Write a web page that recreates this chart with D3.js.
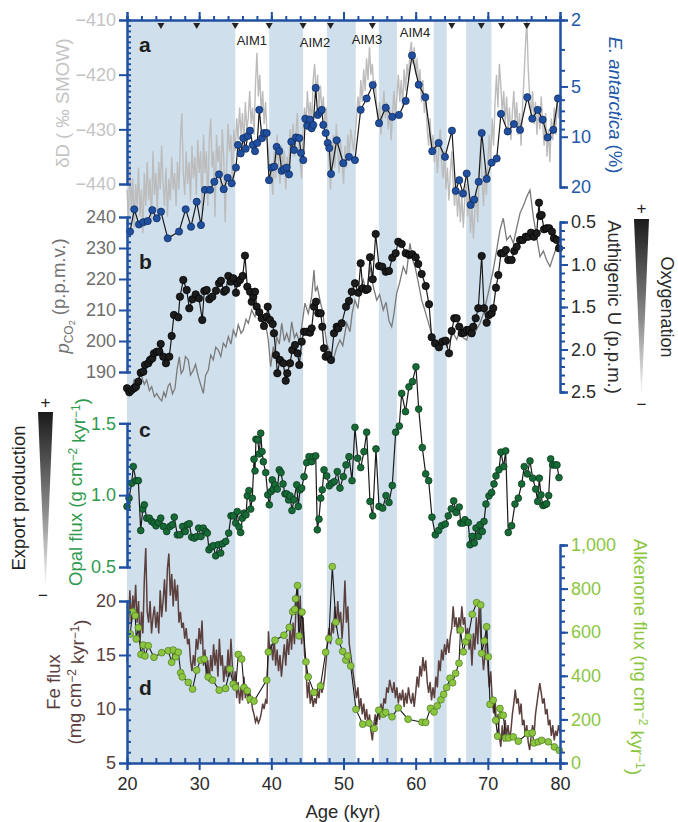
<!DOCTYPE html>
<html><head><meta charset="utf-8">
<script src="https://cdn.jsdelivr.net/npm/d3@7"></script>
<style>
body{margin:0;background:#fff}
svg text{font-family:"Liberation Sans",Arial,Helvetica,sans-serif}
</style></head><body>
<svg id="chart" width="678" height="822"></svg>
<script>
// ---- Age bands (Antarctic warm intervals), event markers and labels ----
const ageBands = [[20,35.0],[39.7,44.4],[47.7,51.7],[54.9,57.4],[62.5,64.3],[67.0,70.5]];
const markerAges = [24.7,29.66,35.0,39.7,44.4,48.2,54.0,65.0,69.1,71.9,75.4];
const aimLabels = [["AIM1",37.3,45],["AIM2",46.05,47],["AIM3",53.25,44],["AIM4",59.9,37]];

// ---- a: deuterium (‰ SMOW) and E. antarctica abundance (%) ----
const deltaD = [
[20.0,-441],[20.2,-447],[20.4,-436],[20.6,-445],[20.8,-439],[21.0,-448],[21.2,-440],[21.4,-444],[21.6,-437],[21.8,-446],
[22.0,-441],[22.2,-449],[22.4,-438],[22.6,-444],[22.8,-436],[23.0,-443],[23.2,-439],[23.4,-447],[23.6,-434],[23.8,-442],
[24.0,-438],[24.2,-445],[24.4,-436],[24.6,-441],[24.8,-433],[25.0,-440],[25.2,-444],[25.4,-437],[25.6,-446],[25.8,-439],
[26.0,-443],[26.2,-435],[26.4,-441],[26.6,-438],[26.8,-444],[27.0,-436],[27.2,-441],[27.4,-432],[27.6,-427],[27.8,-438],
[28.0,-442],[28.2,-434],[28.4,-440],[28.6,-436],[28.8,-443],[29.0,-433],[29.2,-439],[29.4,-435],[29.6,-442],[29.8,-432],
[30.0,-438],[30.2,-434],[30.4,-445],[30.6,-431],[30.8,-438],[31.0,-434],[31.2,-444],[31.4,-432],[31.6,-428],[31.8,-437],
[32.0,-434],[32.2,-446],[32.4,-431],[32.6,-436],[32.8,-433],[33.0,-441],[33.2,-430],[33.4,-435],[33.6,-447],[33.8,-437],
[34.0,-429],[34.2,-434],[34.4,-431],[34.6,-440],[34.8,-430],[35.0,-434],[35.2,-428],[35.4,-432],[35.6,-426],[35.8,-431],
[36.0,-427],[36.2,-433],[36.4,-425],[36.6,-430],[36.8,-428],[37.0,-423],[37.2,-429],[37.4,-426],[37.6,-431],[37.8,-422],
[38.0,-416],[38.2,-424],[38.4,-420],[38.6,-427],[38.8,-423],[39.0,-429],[39.2,-425],[39.4,-431],[39.6,-434],[39.8,-438],
[40.0,-437],[40.2,-442],[40.4,-434],[40.6,-439],[40.8,-431],[41.0,-436],[41.2,-440],[41.4,-433],[41.6,-438],[41.8,-434],
[42.0,-441],[42.2,-435],[42.4,-439],[42.6,-430],[42.8,-434],[43.0,-429],[43.2,-435],[43.4,-431],[43.6,-427],[43.8,-433],
[44.0,-436],[44.2,-439],[44.4,-430],[44.6,-426],[44.8,-429],[45.0,-423],[45.2,-428],[45.4,-425],[45.6,-429],[45.8,-421],
[46.0,-418],[46.2,-424],[46.4,-420],[46.6,-426],[46.8,-422],[47.0,-427],[47.2,-424],[47.4,-429],[47.6,-426],[47.8,-432],
[48.0,-436],[48.2,-441],[48.4,-434],[48.6,-431],[48.8,-437],[49.0,-429],[49.2,-434],[49.4,-438],[49.6,-432],[49.8,-436],
[50.0,-440],[50.2,-433],[50.4,-437],[50.6,-431],[50.8,-435],[51.0,-430],[51.4,-434],[51.8,-428],[52.0,-424],[52.2,-427],
[52.4,-421],[52.6,-425],[52.8,-419],[53.0,-423],[53.2,-417],[53.4,-421],[53.6,-415],[53.8,-420],[54.0,-418],[54.2,-423],
[54.4,-421],[54.6,-426],[54.8,-429],[55.0,-425],[55.2,-431],[55.4,-427],[55.6,-423],[55.8,-428],[56.0,-425],[56.2,-430],
[56.4,-426],[56.6,-432],[56.8,-427],[57.0,-423],[57.2,-428],[57.4,-424],[57.6,-420],[57.8,-425],[58.0,-421],[58.2,-426],
[58.4,-419],[58.6,-423],[58.8,-418],[59.0,-421],[59.2,-416],[59.4,-414],[59.6,-418],[59.8,-415],[60.0,-420],[60.2,-417],
[60.4,-422],[60.6,-419],[60.8,-425],[61.0,-421],[61.2,-427],[61.4,-424],[61.6,-430],[61.8,-433],[62.0,-428],[62.2,-434],
[62.4,-431],[62.6,-436],[62.8,-432],[63.0,-438],[63.2,-434],[63.4,-430],[63.6,-436],[63.8,-439],[64.0,-434],[64.2,-441],
[64.4,-437],[64.6,-443],[64.8,-438],[65.0,-434],[65.2,-440],[65.4,-444],[65.6,-439],[65.8,-446],[66.0,-441],[66.2,-447],
[66.4,-442],[66.6,-448],[66.8,-443],[67.0,-440],[67.2,-446],[67.4,-442],[67.6,-449],[67.8,-444],[68.0,-450],[68.2,-445],
[68.4,-441],[68.6,-447],[68.8,-438],[69.0,-433],[69.2,-439],[69.4,-444],[69.6,-437],[69.8,-442],[70.0,-436],[70.2,-431],
[70.4,-436],[70.6,-428],[70.8,-433],[71.0,-425],[71.2,-420],[71.4,-426],[71.6,-418],[71.8,-422],[72.0,-427],[72.2,-423],
[72.4,-429],[72.6,-424],[72.8,-430],[73.0,-426],[73.2,-432],[73.4,-427],[73.6,-423],[73.8,-429],[74.0,-425],[74.2,-431],
[74.4,-427],[74.6,-433],[74.8,-426],[75.0,-421],[75.2,-415],[75.4,-410],[75.6,-419],[75.8,-424],[76.0,-428],[76.2,-423],
[76.4,-429],[76.6,-425],[76.8,-431],[77.0,-426],[77.2,-430],[77.4,-424],[77.6,-429],[77.8,-433],[78.0,-427],[78.2,-435],
[78.4,-430],[78.6,-436],[78.8,-428],[79.0,-432],[79.2,-426],[79.4,-431],[79.6,-424],[79.8,-428],[80.0,-425]
];
const eAntarctica = [
[20.42,37.0],[21.01,27.2],[21.66,33.5],[22.26,32.5],[22.87,32.0],[23.51,27.5],[24.12,30.8],[24.71,28.1],[25.64,40.6],[27.21,37.0],
[28.13,27.2],[28.87,34.6],[29.66,24.5],[30.25,33.8],[30.81,20.8],[31.50,20.8],[32.10,18.6],[32.75,16.8],[33.40,20.6],[33.95,17.6],
[34.51,19.0],[35.10,15.3],[35.38,11.2],[35.75,12.6],[36.11,10.2],[36.45,11.8],[36.72,9.9],[37.04,9.2],[37.42,11.2],[37.74,12.2],
[38.05,10.9],[38.33,6.9],[38.71,10.2],[38.98,9.5],[39.36,9.5],[39.68,18.2],[40.05,15.3],[40.41,15.1],[40.74,11.5],[41.10,12.2],
[41.44,16.0],[41.75,15.6],[42.13,15.3],[42.45,16.8],[42.77,10.7],[43.14,12.0],[43.42,10.1],[43.87,10.2],[44.11,12.5],[44.43,13.8],
[44.71,7.8],[44.98,8.6],[45.36,7.9],[45.59,8.9],[45.81,8.5],[46.15,5.1],[46.42,7.4],[46.74,7.1],[46.98,6.9],[47.20,8.5],
[47.53,9.5],[47.81,10.9],[48.03,11.7],[48.27,16.7],[49.06,10.5],[49.97,14.4],[50.76,13.2],[51.59,13.8],[52.38,6.9],[53.21,5.9],
[54.05,4.9],[54.92,8.3],[55.85,6.7],[56.76,7.6],[57.69,7.4],[58.62,6.1],[59.49,3.26],[60.42,4.88],[61.33,5.8],[62.30,12.2],
[63.19,10.9],[64.06,13.2],[65.03,9.2],[65.55,21.1],[66.04,18.2],[66.56,21.9],[67.07,16.6],[67.62,25.6],[68.12,23.8],[68.73,18.6],
[69.15,9.5],[69.84,17.9],[70.53,14.3],[71.23,13.5],[71.82,7.3],[72.75,9.3],[73.62,8.4],[74.46,9.1],[75.47,5.8],[76.16,7.8],
[76.91,6.9],[77.60,7.9],[78.29,10.1],[79.07,9.1],[79.72,5.9]
];

// ---- b: atmospheric CO2 (p.p.m.v.) and authigenic uranium (p.p.m.) ----
const pco2 = [
[20.65,184.2],[21.0,187.5],[21.34,186.3],[21.7,189.0],[22.04,188.5],[22.4,186.0],[22.73,187.4],[23.1,184.0],[23.42,185.3],[23.8,182.0],
[24.12,183.1],[24.5,181.5],[24.81,180.7],[25.1,183.5],[25.36,182.0],[25.7,185.5],[25.96,186.3],[26.3,183.0],[26.65,184.7],[26.95,191.0],
[27.25,194.9],[27.5,189.5],[27.80,190.6],[28.1,195.0],[28.49,193.9],[28.8,189.0],[29.19,190.6],[29.5,192.5],[29.88,188.5],[30.2,186.0],
[30.57,183.1],[30.9,189.0],[31.27,190.6],[31.6,195.5],[31.96,193.9],[32.3,198.0],[32.65,197.1],[33.0,195.0],[33.34,199.3],[33.7,198.0],
[34.04,201.4],[34.4,199.0],[34.73,203.5],[35.1,201.5],[35.42,205.2],[35.8,202.5],[36.11,203.5],[36.5,207.0],[36.81,205.7],[37.28,210.0],
[37.74,207.8],[38.19,211.0],[38.66,208.9],[39.12,206.8],[39.58,200.3],[39.91,191.7],[40.27,198.2],[40.5,196.0],[40.74,201.4],[41.1,199.0],
[41.44,205.7],[41.8,200.0],[42.13,202.5],[42.5,199.5],[42.82,206.2],[43.2,201.0],[43.51,202.5],[43.9,199.5],[44.21,204.6],[44.66,212.2],
[45.12,208.9],[45.59,214.3],[45.91,222.9],[46.1,216.0],[46.37,217.5],[46.74,213.2],[47.0,210.5],[47.20,207.8],[47.45,203.0],[47.67,199.3],
[48.1,196.5],[48.59,193.9],[49.0,197.5],[49.51,200.3],[49.9,198.5],[50.44,205.8],[50.9,203.0],[51.2,209.0],[51.59,213.2],[52.0,210.5],
[52.3,216.5],[52.74,219.7],[53.2,215.5],[53.67,224.0],[54.13,217.5],[54.60,213.2],[55.0,215.0],[55.51,210.0],[55.9,212.5],[56.3,206.5],
[56.68,204.6],[57.0,209.0],[57.37,215.4],[57.8,219.0],[58.28,224.0],[58.7,221.5],[59.21,231.5],[59.6,226.0],[59.91,224.0],[60.4,218.5],
[60.83,213.2],[61.2,210.5],[61.53,207.8],[62.0,204.0],[62.44,200.3],[62.9,199.0],[63.37,198.2],[63.8,201.0],[64.30,198.2],[64.8,200.5],
[65.21,202.5],[65.7,200.5],[66.14,203.5],[66.6,201.0],[67.07,200.3],[67.5,203.5],[68.0,201.5],[68.5,204.0],[68.91,205.7],[69.4,209.0],
[69.84,213.2],[70.3,218.0],[70.75,222.9],[71.2,229.0],[71.68,235.8],[72.14,239.6],[72.61,232.6],[73.1,234.0],[73.53,231.5],[74.0,236.5],
[74.46,241.2],[75.0,244.0],[75.38,246.5],[75.84,248.7],[76.30,240.1],[76.8,233.0],[77.23,227.2],[77.7,229.0],[78.15,226.1],[78.61,224.0],
[79.1,227.5],[79.54,230.4],[80.0,233.6]
];
const authigenicU = [
[20.0,2.456],[20.32,2.504],[20.65,2.476],[20.97,2.456],[21.25,2.438],[21.57,2.379],[21.90,2.273],[22.26,2.261],[22.49,2.182],[22.95,2.162],
[23.19,2.124],[23.51,2.104],[23.74,2.045],[24.12,2.026],[24.48,2.026],[24.67,1.935],[25.03,2.085],[25.40,2.162],[25.86,2.085],[26.19,1.841],
[26.51,1.594],[27.11,1.621],[27.34,1.379],[27.80,1.182],[28.27,1.300],[28.63,1.515],[29.05,1.409],[29.52,1.351],[29.98,1.398],[30.43,1.653],
[30.71,1.312],[31.04,1.300],[31.40,1.409],[31.82,1.379],[32.33,1.308],[32.75,1.221],[33.02,1.191],[33.44,1.320],[33.72,1.300],[34.04,1.135],
[34.37,1.202],[34.73,1.162],[35.10,1.332],[35.28,1.221],[35.66,1.182],[36.03,1.135],[36.35,0.896],[36.67,1.261],[37.04,1.320],[37.28,1.438],
[37.50,1.379],[37.74,1.320],[37.97,1.496],[38.33,1.562],[38.66,1.633],[38.98,1.724],[39.36,1.614],[39.50,1.496],[39.81,1.653],[40.19,1.700],
[40.37,1.809],[40.65,2.065],[40.83,2.280],[41.20,2.124],[41.66,2.162],[41.99,2.367],[42.21,2.280],[42.59,2.162],[42.90,2.006],[43.28,1.947],
[43.65,2.045],[43.87,2.182],[44.21,1.908],[44.53,1.791],[44.90,1.791],[45.36,1.802],[45.59,1.751],[45.91,1.496],[46.19,1.438],[46.51,1.574],
[46.84,1.574],[47.06,1.732],[47.30,1.986],[47.53,2.085],[47.89,2.065],[48.27,2.124],[48.68,1.809],[49.06,1.732],[49.28,1.751],[49.75,1.692],
[50.35,1.496],[50.76,1.429],[51.14,1.320],[51.59,1.221],[52.05,1.332],[52.38,0.986],[52.66,1.280],[53.12,1.300],[53.35,1.288],[53.67,0.915],
[54.05,1.174],[54.46,0.641],[54.92,1.018],[55.37,1.026],[55.85,1.085],[56.30,1.076],[56.76,0.920],[57.23,0.868],[57.59,0.732],[58.06,0.759],
[58.62,0.868],[59.12,0.888],[59.53,0.880],[60.00,0.915],[60.36,0.994],[60.83,1.112],[61.39,1.253],[61.85,1.468],[62.22,1.856],[62.68,1.927],
[63.23,1.974],[63.69,1.908],[64.16,1.896],[64.62,2.045],[64.99,1.782],[65.35,1.633],[65.68,1.633],[66.04,1.732],[66.38,1.809],[66.74,1.802],
[67.07,1.771],[67.43,1.771],[67.76,1.809],[67.98,1.732],[68.32,1.633],[68.68,1.515],[69.15,0.900],[69.47,1.515],[69.84,1.685],[70.16,1.594],
[70.53,1.574],[70.75,1.515],[71.13,1.273],[71.45,1.124],[71.82,0.868],[72.14,0.868],[72.51,0.829],[72.83,0.947],[73.30,0.947],[73.66,0.841],
[74.00,0.791],[74.46,0.712],[74.83,0.712],[75.25,0.673],[75.61,0.673],[75.98,0.626],[76.39,0.673],[76.77,0.633],[77.09,0.273],[77.23,0.429],
[77.46,0.418],[77.78,0.586],[78.15,0.574],[78.51,0.574],[78.89,0.614],[79.16,0.692],[79.54,0.712],[79.86,0.809]
];

// ---- c: opal flux (g cm-2 kyr-1) ----
const opalFlux = [
[20.0,0.921],[20.28,0.979],[20.65,1.083],[20.87,1.199],[21.25,1.101],[21.57,1.101],[21.90,0.754],[22.18,0.903],[22.40,0.933],[22.73,0.840],
[23.09,0.840],[23.42,0.817],[23.74,0.806],[24.02,0.787],[24.34,0.810],[24.67,0.840],[25.03,0.782],[25.50,0.747],[25.96,0.782],[26.28,0.794],
[26.55,0.847],[26.97,0.724],[27.34,0.724],[27.72,0.782],[28.08,0.747],[28.36,0.794],[28.63,0.801],[28.96,0.708],[29.33,0.701],[29.66,0.712],
[29.93,0.771],[30.25,0.712],[30.57,0.771],[30.90,0.747],[31.13,0.736],[31.36,0.620],[31.64,0.639],[31.96,0.648],[32.29,0.578],[32.65,0.655],
[32.98,0.597],[33.26,0.662],[33.68,0.678],[34.09,0.736],[34.41,0.856],[34.73,0.856],[35.06,0.806],[35.28,0.886],[35.52,0.778],[35.75,0.740],
[35.98,0.840],[36.21,0.875],[36.49,0.863],[36.67,0.995],[36.90,1.032],[37.14,0.903],[37.36,0.979],[37.60,1.250],[37.74,1.169],[37.87,1.389],
[38.11,1.384],[38.33,1.287],[38.53,1.431],[38.71,1.303],[38.89,1.233],[39.22,1.157],[39.50,1.002],[39.72,0.933],[39.95,1.025],[40.13,1.106],
[40.27,1.042],[40.51,1.072],[40.83,1.042],[41.10,1.176],[41.34,1.157],[41.62,1.078],[41.89,1.009],[42.13,1.009],[42.40,0.967],[42.59,0.995],
[42.86,0.893],[43.14,0.967],[43.51,1.072],[43.74,0.921],[43.97,1.037],[44.21,1.049],[44.53,1.129],[44.90,1.226],[45.22,1.268],[45.59,1.233],
[45.81,1.268],[46.15,1.273],[46.37,0.759],[46.60,0.833],[46.84,0.979],[47.06,1.037],[47.30,1.176],[47.67,1.134],[48.03,1.065],[48.37,1.083],
[48.73,1.094],[49.14,1.164],[49.51,1.049],[49.97,1.129],[50.35,1.210],[50.76,1.268],[51.18,1.101],[51.59,1.472],[51.97,1.257],[52.38,1.192],
[52.84,1.303],[53.21,1.438],[53.67,0.956],[54.05,0.856],[54.50,1.322],[54.92,0.921],[55.43,0.910],[55.89,0.997],[56.30,0.949],[56.76,1.067],
[57.23,1.438],[57.73,1.481],[58.06,1.708],[58.59,1.581],[59.07,1.754],[59.56,1.790],[60.04,1.893],[60.42,1.599],[60.92,1.331],[61.39,1.148],
[61.80,1.101],[62.26,0.847],[62.72,0.724],[63.19,0.754],[63.60,0.787],[64.10,0.799],[64.52,0.856],[64.93,0.905],[65.27,0.960],[65.59,0.879],
[66.04,0.917],[66.24,0.806],[66.60,0.806],[66.83,0.829],[67.29,0.810],[67.53,0.655],[67.85,0.713],[68.12,0.667],[68.36,0.771],[68.68,0.713],
[68.91,0.794],[69.23,0.747],[69.47,0.817],[69.74,0.938],[70.16,0.995],[70.53,1.018],[70.85,1.078],[71.13,1.134],[71.54,1.176],[71.82,1.299],
[72.20,1.199],[72.47,1.308],[72.83,0.740],[73.30,0.787],[73.76,0.938],[74.22,0.979],[74.69,1.078],[75.05,1.199],[75.47,1.148],[75.84,1.238],
[76.21,1.118],[76.63,1.042],[76.91,0.956],[77.13,1.118],[77.36,1.002],[77.64,0.928],[77.92,0.933],[78.15,0.940],[78.43,0.997],[78.71,1.252],
[78.98,1.210],[79.30,1.210],[79.58,1.210],[79.86,1.122]
];

// ---- d: iron flux (mg cm-2 kyr-1) and alkenone flux (ng cm-2 kyr-1) ----
const feFlux = [
[20.0,14.3],[20.2,17.5],[20.4,21.0],[20.6,18.0],[20.8,20.5],[21.0,19.0],[21.2,21.5],[21.4,18.0],[21.6,20.0],[21.8,16.0],
[22.0,19.0],[22.2,17.0],[22.4,22.0],[22.6,24.9],[22.8,19.0],[23.0,18.0],[23.2,20.0],[23.4,17.0],[23.6,18.5],[23.8,19.5],
[24.0,17.5],[24.2,19.0],[24.4,17.0],[24.6,21.0],[24.8,18.5],[25.0,20.0],[25.2,22.0],[25.4,19.0],[25.6,23.0],[25.8,24.4],
[26.0,20.5],[26.2,22.5],[26.4,19.5],[26.6,22.0],[26.8,20.0],[27.0,21.5],[27.2,18.0],[27.4,19.0],[27.6,17.5],[27.8,18.0],
[28.0,16.5],[28.2,17.5],[28.4,16.0],[28.6,16.5],[28.8,14.5],[29.0,13.5],[29.2,15.0],[29.4,14.0],[29.6,16.5],[29.8,15.5],
[30.0,17.5],[30.2,16.0],[30.4,18.2],[30.6,14.0],[30.8,15.5],[31.0,13.0],[31.2,14.5],[31.4,12.5],[31.6,15.0],[31.8,13.5],
[32.0,16.0],[32.2,14.0],[32.4,15.5],[32.6,13.0],[32.8,16.5],[33.0,14.0],[33.2,15.0],[33.4,12.5],[33.6,14.0],[33.8,13.0],
[34.0,15.5],[34.2,13.0],[34.4,16.5],[34.6,14.0],[34.8,12.0],[35.0,13.5],[35.2,11.0],[35.4,12.5],[35.6,10.5],[35.8,12.0],
[36.0,10.8],[36.2,13.0],[36.4,11.0],[36.6,12.0],[36.8,10.5],[37.0,11.5],[37.2,11.0],[37.4,10.0],[37.6,9.5],[37.8,8.8],
[38.0,9.2],[38.2,8.7],[38.4,9.0],[38.6,9.6],[38.8,10.5],[39.0,10.0],[39.2,10.8],[39.4,10.5],[39.6,17.2],[39.8,15.0],
[40.0,16.0],[40.2,14.5],[40.4,16.5],[40.6,14.0],[40.8,15.5],[41.0,13.5],[41.2,15.0],[41.4,13.0],[41.6,14.5],[41.8,16.0],
[42.0,14.0],[42.2,16.5],[42.4,15.0],[42.6,17.5],[42.8,15.5],[43.0,18.0],[43.2,16.0],[43.4,19.0],[43.6,21.5],[43.8,17.0],
[44.0,20.5],[44.2,16.0],[44.4,18.5],[44.6,15.0],[44.8,14.0],[45.0,11.0],[45.2,12.5],[45.4,10.5],[45.6,11.5],[45.8,10.2],
[46.0,11.0],[46.2,10.5],[46.4,11.8],[46.6,11.0],[46.8,12.5],[47.0,11.5],[47.2,12.0],[47.4,13.0],[47.6,14.5],[47.8,16.4],
[48.0,17.5],[48.2,16.0],[48.4,18.0],[48.6,17.0],[48.8,19.5],[49.0,17.5],[49.2,20.0],[49.4,18.0],[49.6,19.0],[49.8,16.5],
[50.0,18.5],[50.2,21.9],[50.4,18.0],[50.6,19.5],[50.8,16.0],[51.0,15.0],[51.2,14.0],[51.4,13.0],[51.6,12.0],[51.8,11.0],
[52.0,12.0],[52.2,10.0],[52.4,11.0],[52.6,9.5],[52.8,10.5],[53.0,9.0],[53.2,10.0],[53.4,8.5],[53.6,9.5],[53.8,8.0],
[54.0,7.1],[54.2,8.5],[54.4,9.5],[54.6,8.5],[54.8,10.0],[55.0,9.0],[55.2,10.5],[55.4,9.5],[55.6,11.0],[55.8,10.5],
[56.0,12.0],[56.2,11.5],[56.4,12.7],[56.6,12.0],[56.8,11.5],[57.0,12.5],[57.2,11.0],[57.4,12.0],[57.6,10.5],[57.8,11.5],
[58.0,10.8],[58.2,11.8],[58.4,10.2],[58.6,11.5],[58.8,10.5],[59.0,12.0],[59.2,11.0],[59.4,10.5],[59.6,11.5],[59.8,10.2],
[60.0,11.5],[60.2,13.0],[60.4,12.0],[60.6,14.0],[60.8,13.0],[61.0,14.8],[61.2,13.5],[61.4,14.5],[61.6,12.5],[61.8,11.5],
[62.0,12.5],[62.2,10.8],[62.4,12.0],[62.6,11.0],[62.8,13.0],[63.0,12.0],[63.2,14.5],[63.4,13.5],[63.6,15.5],[63.8,14.5],
[64.0,16.0],[64.2,15.0],[64.4,16.5],[64.6,15.2],[64.8,16.7],[65.0,17.5],[65.2,19.5],[65.4,17.6],[65.6,18.5],[65.8,17.0],
[66.0,18.5],[66.2,17.5],[66.4,19.5],[66.6,17.8],[66.8,18.5],[67.0,16.5],[67.2,17.5],[67.4,15.5],[67.6,16.5],[67.8,14.0],
[68.0,17.0],[68.2,15.5],[68.4,18.5],[68.6,16.0],[68.8,19.5],[69.0,17.0],[69.2,15.5],[69.4,13.6],[69.6,15.0],[69.8,17.5],
[70.0,14.0],[70.2,12.0],[70.4,13.5],[70.6,11.0],[70.8,9.6],[71.0,11.0],[71.2,8.5],[71.4,9.5],[71.6,7.5],[71.8,6.5],
[72.0,8.5],[72.2,7.0],[72.4,9.0],[72.6,7.5],[72.8,8.5],[73.0,7.2],[73.2,8.0],[73.4,9.5],[73.6,10.5],[73.8,11.8],
[74.0,10.5],[74.2,11.0],[74.4,9.5],[74.6,10.5],[74.8,8.5],[75.0,9.0],[75.2,7.5],[75.4,8.5],[75.6,6.9],[75.8,6.2],
[76.0,7.5],[76.2,8.5],[76.4,7.5],[76.6,9.5],[76.8,10.5],[77.0,11.5],[77.2,12.4],[77.4,11.5],[77.6,10.5],[77.8,11.0],
[78.0,9.5],[78.2,10.0],[78.4,8.5],[78.6,9.0],[78.8,7.5],[79.0,8.5],[79.2,7.1],[79.4,8.0],[79.6,7.5],[79.8,8.5],[80.0,7.8]
];
const alkenoneFlux = [
[20.44,592],[20.80,694],[21.14,676],[21.28,569],[21.57,621],[21.94,498],[22.26,541],[22.49,491],[22.95,538],[23.74,485],
[24.81,506],[25.72,515],[26.19,462],[26.42,518],[26.75,487],[27.11,508],[27.44,414],[27.66,395],[28.49,370],[29.09,339],
[29.65,426],[30.20,472],[30.70,477],[31.25,395],[31.86,380],[32.78,334],[33.66,342],[34.26,431],[34.72,362],[35.06,347],
[35.42,498],[35.89,477],[36.21,347],[36.67,331],[37.04,293],[37.60,284],[39.36,380],[39.58,509],[40.51,563],[41.75,586],
[42.49,622],[42.96,694],[43.25,705],[43.36,753],[43.63,814],[43.84,583],[44.25,692],[44.80,464],[45.11,395],[45.91,324],
[46.81,353],[47.53,508],[47.97,571],[48.45,901],[48.94,646],[49.38,557],[49.89,512],[50.32,472],[50.58,491],[51.00,445],
[51.73,246],[52.66,178],[53.53,183],[54.25,158],[54.89,242],[55.51,224],[55.85,232],[56.72,212],[57.59,253],[58.94,201],
[60.88,187],[61.39,186],[62.05,251],[62.54,234],[62.99,262],[63.50,290],[63.88,315],[64.29,346],[64.75,389],[65.12,368],
[65.54,411],[66.00,458],[66.21,610],[66.60,510],[66.93,556],[67.29,579],[67.85,682],[68.45,736],[69.01,725],[69.15,503],
[69.51,560],[69.84,625],[70.06,487],[70.30,269],[70.75,288],[71.09,196],[71.36,123],[71.68,250],[71.92,219],[72.14,219],
[72.47,115],[72.89,115],[73.52,120],[74.22,100],[75.52,135],[76.16,138],[76.39,92],[76.99,97],[77.46,104],[78.38,97],
[79.21,74],[79.90,58]
];

// ---- Axis tick values ----
const ageMajor = [20,30,40,50,60,70,80];
const ageMinor = d3.range(20, 81, 2);
const dDTicks = [-440,-430,-420,-410];
const eAntTicks = [2,5,10,20];
const eAntMinor = [3,4,6,7,8,9];
const co2Ticks = [190,200,210,220,230,240];
const uTicks = [0.5,1.0,1.5,2.0,2.5];
const opalTicks = [0.5,1.0,1.5];
const feTicks = [5,10,15,20];
const alkTicks = [0,200,400,600,800,1000];

// ---- Colours ----
const axisBlue = "#1f50a2";
const bandFill = "#cfdfeb";

const svg = d3.select("#chart");

// ---- Scales ----
const x = d3.scaleLinear().domain([20,80]).range([127,560]);
const yDD = d3.scaleLinear().domain([-440,-410]).range([184,20]);
const yE = d3.scaleLog().domain([2,20]).range([20,187]);
const yCO2 = d3.scaleLinear().domain([190,240]).range([372,217]);
const yU = d3.scaleLinear().domain([0.5,2.5]).range([222,392]);
const yOpal = d3.scaleLinear().domain([0.5,1.5]).range([567,423.3]);
const yFe = d3.scaleLinear().domain([5,20]).range([763,601]);
const yAlk = d3.scaleLinear().domain([0,1000]).range([763,545]);

// gradient wedges
const defs = svg.append("defs");
const grad = defs.append("linearGradient").attr("id","wedge").attr("x1",0).attr("y1",0).attr("x2",0).attr("y2",1);
grad.append("stop").attr("offset","0%").attr("stop-color","#1b1b1b");
grad.append("stop").attr("offset","55%").attr("stop-color","#8a8a8a");
grad.append("stop").attr("offset","100%").attr("stop-color","#ffffff");

// ---- Bands ----
svg.append("g").selectAll("rect").data(ageBands).join("rect")
  .attr("x", d => x(d[0])).attr("width", d => x(d[1]) - x(d[0]))
  .attr("y", 20).attr("height", 743).attr("fill", bandFill);

// ---- Lines & points ----
const lineOf = ys => d3.line().x(d => x(d[0])).y(d => ys(d[1]));

function dots(data, ys, r, fill, stroke) {
  svg.append("g").selectAll("circle").data(data).join("circle")
    .attr("cx", d => x(d[0])).attr("cy", d => ys(d[1])).attr("r", r)
    .attr("fill", fill).attr("stroke", stroke).attr("stroke-width", 0.7);
}

// a
svg.append("path").datum(deltaD).attr("d", lineOf(yDD)).attr("fill","none").attr("stroke","#bcbcbc").attr("stroke-width",1.4);
svg.append("path").datum(eAntarctica).attr("d", lineOf(yE)).attr("fill","none").attr("stroke","#1a1a1a").attr("stroke-width",1.2);
dots(eAntarctica, yE, 3.6, "#1f4f9e", "#0e2858");
// b
svg.append("path").datum(pco2).attr("d", lineOf(yCO2)).attr("fill","none").attr("stroke","#7a7a7a").attr("stroke-width",1.3);
svg.append("path").datum(authigenicU).attr("d", lineOf(yU)).attr("fill","none").attr("stroke","#1a1a1a").attr("stroke-width",1.2);
dots(authigenicU, yU, 3.7, "#1c1c1c", "#000");
// c
svg.append("path").datum(opalFlux).attr("d", lineOf(yOpal)).attr("fill","none").attr("stroke","#1a1a1a").attr("stroke-width",1.2);
dots(opalFlux, yOpal, 3.4, "#176a36", "#0a351a");
// d
svg.append("path").datum(feFlux).attr("d", lineOf(yFe)).attr("fill","none").attr("stroke","#5b403d").attr("stroke-width",1.5);
svg.append("path").datum(alkenoneFlux).attr("d", lineOf(yAlk)).attr("fill","none").attr("stroke","#1a1a1a").attr("stroke-width",1.1);
dots(alkenoneFlux, yAlk, 3.4, "#8cc63f", "#4d7a22");

// ---- Axes ----
function styleAxis(g, textColor, fontSize) {
  g.selectAll("path.domain").attr("stroke", axisBlue).attr("stroke-width", 2);
  g.selectAll(".tick line").attr("stroke", axisBlue).attr("stroke-width", 2);
  g.selectAll("text").attr("fill", textColor).attr("font-size", fontSize || 18);
}
function vAxis(scale, side, xPos, majors, minors, fmt, color) {
  const make = () => side === "left" ? d3.axisLeft(scale) : d3.axisRight(scale);
  const g = svg.append("g").attr("transform", `translate(${xPos},0)`);
  const gMin = g.append("g").call(make().tickValues(minors).tickSize(side === "left" ? -4 : 5).tickFormat(""));
  const gMaj = g.append("g").call(make().tickValues(majors).tickSize(8).tickPadding(3).tickFormat(fmt));
  styleAxis(gMin, color); styleAxis(gMaj, color);
}
const f1 = d3.format(".1f");
vAxis(yDD, "left", 127, dDTicks, d3.range(-440, -409, 1), d3.format("d"), "#c4c4c4");
vAxis(yE, "right", 560, eAntTicks, eAntMinor, d3.format("d"), "#2157a8");
vAxis(yCO2, "left", 127, co2Ticks, d3.range(190, 241, 2), d3.format("d"), "#6e6e6e");
vAxis(yU, "right", 560, uTicks, d3.range(0.5, 2.51, 0.1), f1, "#2b2b2b");
vAxis(yOpal, "left", 127, opalTicks, d3.range(0.5, 1.501, 0.05), f1, "#2f9a4e");
vAxis(yFe, "left", 127, feTicks, d3.range(5, 20.5, 1), d3.format("d"), "#5a3e3e");
vAxis(yAlk, "right", 560, alkTicks, d3.range(0, 1001, 50), d3.format(","), "#8cc63f");

// top and bottom age axes
const gTop = svg.append("g").attr("transform","translate(0,20)");
styleAxis(gTop.append("g").call(d3.axisTop(x).tickValues(ageMinor).tickSize(4).tickFormat("")), "#333");
styleAxis(gTop.append("g").call(d3.axisTop(x).tickValues(ageMajor).tickSize(8).tickFormat("")), "#333");
const gBot = svg.append("g").attr("transform","translate(0,763)");
styleAxis(gBot.append("g").call(d3.axisBottom(x).tickValues(ageMinor).tickSize(-5).tickFormat("")), "#333");
styleAxis(gBot.append("g").call(d3.axisBottom(x).tickValues(ageMajor).tickSize(7).tickPadding(7).tickFormat(d3.format("d"))), "#2a2a2a");

// ---- Event markers and AIM labels ----
svg.append("g").selectAll("path").data(markerAges).join("path")
  .attr("d", d => `M${x(d)-3.5},23 L${x(d)+3.5},23 L${x(d)},29 Z`).attr("fill","#222");
svg.append("g").selectAll("text").data(aimLabels).join("text")
  .attr("x", d => x(d[1])).attr("y", d => d[2]).attr("text-anchor","middle")
  .attr("font-size", 13).attr("fill","#222").text(d => d[0]);

// ---- Panel letters ----
[["a",52],["b",269],["c",437],["d",695]].forEach(([t, y]) => {
  svg.append("text").attr("x",139).attr("y",y).attr("font-size",21).attr("font-weight","bold").attr("fill","#1e1e1e").text(t);
});

// ---- Axis titles ----
function vLabel(xp, yp, angle, color, size) {
  return svg.append("text").attr("transform", `translate(${xp},${yp}) rotate(${angle})`)
    .attr("text-anchor","middle").attr("font-size",size || 18.5).attr("fill",color);
}
vLabel(69, 103, -90, "#c4c4c4").text("δD ( ‰ SMOW)");

const co2Lab = vLabel(69, 296, -90, "#727272");
co2Lab.append("tspan").attr("font-style","italic").text("p");
co2Lab.append("tspan").attr("dy","0.35em").attr("font-size",12).text("CO");
co2Lab.append("tspan").attr("dy","0.25em").attr("font-size",9).text("2");
co2Lab.append("tspan").attr("dy","-0.55em").text(" (p.p.m.v.)");

const opalLab = vLabel(82, 492, -90, "#2f9a4e");
opalLab.append("tspan").text("Opal flux (g cm");
opalLab.append("tspan").attr("dy","-0.45em").attr("font-size",12).text("−2");
opalLab.append("tspan").attr("dy","0.45em").text(" kyr");
opalLab.append("tspan").attr("dy","-0.45em").attr("font-size",12).text("−1");
opalLab.append("tspan").attr("dy","0.45em").text(")");

vLabel(25, 498, -90, "#1e1e1e").text("Export production");

vLabel(60, 682, -90, "#5a3e3e").text("Fe flux");
const feLab = vLabel(81, 682, -90, "#5a3e3e");
feLab.append("tspan").text("(mg cm");
feLab.append("tspan").attr("dy","-0.45em").attr("font-size",12).text("−2");
feLab.append("tspan").attr("dy","0.45em").text(" kyr");
feLab.append("tspan").attr("dy","-0.45em").attr("font-size",12).text("−1");
feLab.append("tspan").attr("dy","0.45em").text(")");

const eLab = vLabel(609, 105, 90, "#2157a8");
eLab.append("tspan").attr("font-style","italic").text("E. antarctica");
eLab.append("tspan").text(" (%)");

vLabel(608, 307, 90, "#2b2b2b").text("Authigenic U (p.p.m.)");
vLabel(661, 307, 90, "#2b2b2b", 18).text("Oxygenation");

const alkLab = vLabel(634, 657, 90, "#8cc63f");
alkLab.append("tspan").text("Alkenone flux (ng cm");
alkLab.append("tspan").attr("dy","-0.45em").attr("font-size",12).text("−2");
alkLab.append("tspan").attr("dy","0.45em").text(" kyr");
alkLab.append("tspan").attr("dy","-0.45em").attr("font-size",12).text("−1");
alkLab.append("tspan").attr("dy","0.45em").text(")");

svg.append("text").attr("x",343).attr("y",818).attr("text-anchor","middle").attr("font-size",18.5).attr("fill","#2a2a2a").text("Age (kyr)");

// ---- Gradient wedges with +/− marks ----
svg.append("path").attr("d","M634,219 L649,219 L641.5,400 Z").attr("fill","url(#wedge)");
svg.append("text").attr("x",641.5).attr("y",214).attr("text-anchor","middle").attr("font-size",17).attr("fill","#222").text("+");
svg.append("text").attr("x",641.5).attr("y",410).attr("text-anchor","middle").attr("font-size",17).attr("fill","#222").text("−");
svg.append("path").attr("d","M38,412 L53,412 L45.5,592 Z").attr("fill","url(#wedge)");
svg.append("text").attr("x",45.5).attr("y",408).attr("text-anchor","middle").attr("font-size",17).attr("fill","#222").text("+");
svg.append("text").attr("x",43).attr("y",601).attr("text-anchor","middle").attr("font-size",17).attr("fill","#222").text("−");
</script></body></html>
